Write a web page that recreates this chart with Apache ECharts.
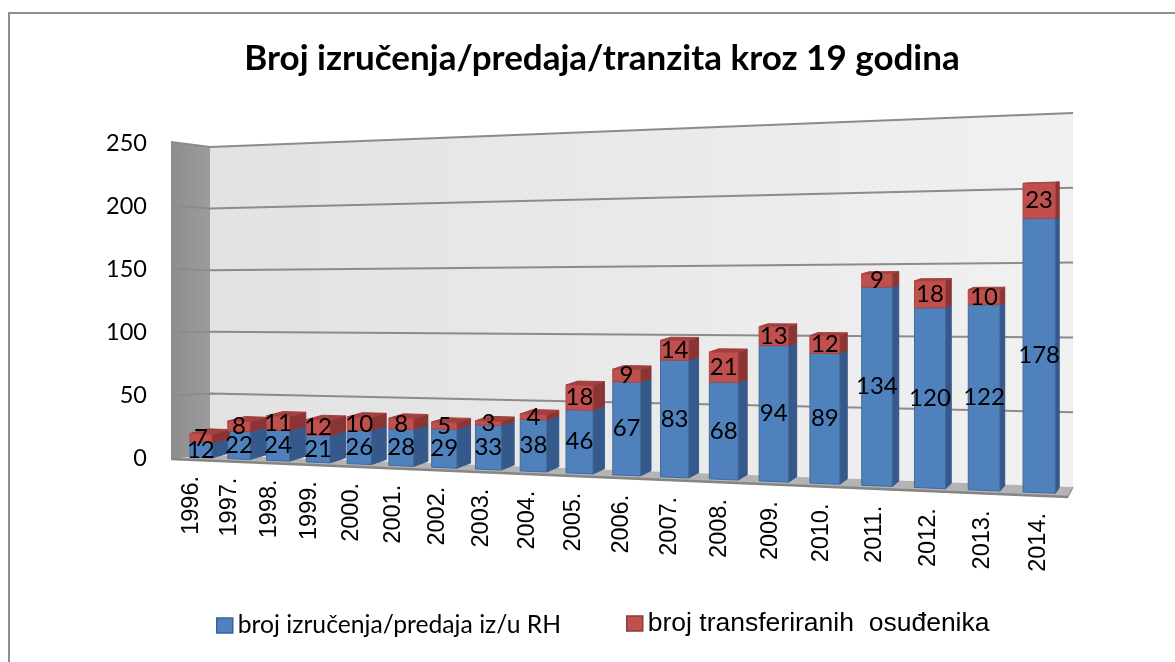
<!DOCTYPE html>
<html><head><meta charset="utf-8">
<style>html,body{margin:0;padding:0;background:#fff}#c{width:1175px;height:662px}</style>
<script src="https://cdn.jsdelivr.net/npm/echarts@6/dist/echarts.min.js"></script>
</head><body><div id="c"></div>
<script>
const categories = ['1996.','1997.','1998.','1999.','2000.','2001.','2002.','2003.','2004.','2005.','2006.','2007.','2008.','2009.','2010.','2011.','2012.','2013.','2014.'];
const izrucenja = [12,22,24,21,26,28,29,33,38,46,67,83,68,94,89,134,120,122,178];
const transferi = [7,8,11,12,10,8,5,3,4,18,9,14,21,13,12,9,18,10,23];
const yTicks = [0,50,100,150,200,250];
const titleText = 'Broj izručenja/predaja/tranzita kroz 19 godina';
const nameA = 'broj izručenja/predaja iz/u RH';
const nameB = 'broj transferiranih  osuđenika';

const GRID = {left:170, width:900, top:143, height:315};
const chart = echarts.init(document.getElementById('c'),null,{renderer:'canvas'});

// perspective helpers: everything enters as a pixel from api.coord and is bent to the 3D look
const band = GRID.width/categories.length;
const catOf = px => (px-GRID.left)/band-0.5;
const frontX = c => 200.85+37.57*c+0.5*c*c;
const rise = py => (GRID.top+GRID.height-py)*250/GRID.height;   // value from axis pixel
function front(px,py){
  const x=frontX(catOf(px)), t=(x-190)/833;
  return [x, 457+35*t-rise(py)*(1.24+0.295*t)];
}
const VP=[1300,148], S=0.0161;
const back = p => [p[0]+S*(VP[0]-p[0]), p[1]+S*(VP[1]-p[1])];
function wall(t,py){ return [210+863*t, 455+32*t-rise(py)*(1.232+0.264*t)]; }
function sideWall(py){ return [171, 459-rise(py)*1.268]; }

function barItem(base,colors){
  return function(params,api){
    const i=api.value(0), lo=base(i), hi=lo+api.value(1);
    const c=api.coord([i,lo]), d=api.coord([i,hi]);
    const hw=band*0.29;
    const a=front(c[0]-hw,c[1]), b=front(c[0]+hw,c[1]), e=front(c[0]+hw,d[1]), f=front(c[0]-hw,d[1]);
    const ba=back(b), be=back(e), bf=back(f);
    const poly=(pts,fill,stroke)=>({type:'polygon',shape:{points:pts},style:{fill:fill,stroke:stroke||fill,lineWidth:1}});
    return {type:'group',children:[
      poly([b,ba,be,e],colors.side),
      poly([f,e,be,bf],colors.top),
      poly([a,b,e,f],colors.face,colors.edge)
    ]};
  };
}
const blue={face:'#4f81bd',side:'#35598a',top:'#3f6ba3',edge:'#41699c'};
const red={face:'#c0504d',side:'#8a3533',top:'#a33f3d',edge:'#a84543'};

const option={
  animation:false,
  backgroundColor:'#fff',
  title:{text:titleText,left:597,top:36,textAlign:'center',textStyle:{fontFamily:'Lato',fontWeight:'bold',fontSize:35,color:'#000'}},
  grid:{left:GRID.left,width:GRID.width,top:GRID.top,height:GRID.height},
  xAxis:{type:'category',data:categories,axisLine:{show:false},axisTick:{show:false},axisLabel:{show:false},splitLine:{show:false}},
  yAxis:{type:'value',min:0,max:250,interval:50,axisLine:{show:false},axisTick:{show:false},splitLine:{show:false},
    axisLabel:{margin:23,fontFamily:'Lato',fontSize:23.5,color:'#000'}},
  legend:[
    {show:true,left:211,top:608,icon:'rect',itemWidth:16,itemHeight:15,itemGap:5,data:[nameA],textStyle:{fontFamily:'Lato',fontSize:24.7,color:'#000'},itemStyle:{borderColor:'#3a6496',borderWidth:1.5}},
    {show:true,left:621,top:605,icon:'rect',itemWidth:16,itemHeight:15,itemGap:5,data:[nameB],textStyle:{fontFamily:'Liberation Sans',fontSize:26.5,color:'#000'},itemStyle:{borderColor:'#8f3a38',borderWidth:1.5}}
  ],
  graphic:[
    {type:'polyline',silent:true,shape:{points:[[9,662],[9,13],[1175,13]]},style:{fill:null,stroke:'#8f8f8f',lineWidth:2}}
  ],
  series:[
    {type:'custom',name:'wall',z:1,silent:true,coordinateSystem:'cartesian2d',data:[[0,250]],
      renderItem(p,api){
        const top=api.coord([0,250])[1], zero=api.coord([0,0])[1];
        const wp=[wall(0,top),wall(1,top),wall(1,zero),wall(0,zero)];
        const sp=[sideWall(top),wall(0,top),wall(0,zero),sideWall(zero)];
        const fl=[wall(0,zero),wall(1,zero),[1068,497],sideWall(zero)];
        return {type:'group',children:[
          {type:'polygon',shape:{points:wp},style:{fill:new echarts.graphic.LinearGradient(0,0,1,0,[{offset:0,color:'#e2e2e2'},{offset:1,color:'#f1f1f1'}])}},
          {type:'polygon',shape:{points:sp},style:{fill:new echarts.graphic.LinearGradient(0,0,1,0,[{offset:0,color:'#8d8d8d'},{offset:1,color:'#9c9c9c'}])}},
          {type:'polygon',shape:{points:fl},style:{fill:'#b4b4b4'}},
          {type:'line',shape:{x1:sideWall(zero)[0],y1:sideWall(zero)[1],x2:1068,y2:497},style:{stroke:'#858585',lineWidth:2.5}},
          {type:'line',shape:{x1:1068,y1:497,x2:1073,y2:487},style:{stroke:'#999',lineWidth:1.5}}
        ]};
      }},
    {type:'custom',name:'grid',z:2,silent:true,coordinateSystem:'cartesian2d',data:yTicks.slice(1).map(v=>[0,v]),
      encode:{x:0,y:1},
      renderItem(p,api){
        const y=api.coord([0,api.value(1)])[1];
        const a=sideWall(y),b=wall(0,y),c=wall(1,y);
        return {type:'polyline',shape:{points:[a,b,c]},style:{fill:null,stroke:'#8b8b8b',lineWidth:2}};
      }},
    {type:'custom',name:nameA,z:3,coordinateSystem:'cartesian2d',data:izrucenja.map((v,i)=>[i,v]),encode:{x:0,y:1},
      itemStyle:{color:'#4f81bd'},renderItem:barItem(()=>0,blue)},
    {type:'custom',name:nameB,z:4,coordinateSystem:'cartesian2d',data:transferi.map((v,i)=>[i,v]),encode:{x:0,y:1},
      itemStyle:{color:'#c0504d'},renderItem:barItem(i=>izrucenja[i],red)},
    {type:'custom',name:'labels',z:5,silent:true,coordinateSystem:'cartesian2d',
      data:izrucenja.map((v,i)=>[i,0,v]).concat(transferi.map((v,i)=>[i,izrucenja[i],v])),encode:{x:0,y:1},
      renderItem(p,api){
        const i=api.value(0),lo=api.value(1),v=api.value(2);
        const c=api.coord([i,lo+v/2]);
        const pt=front(c[0],c[1]);
        return {type:'text',style:{x:pt[0],y:pt[1],text:String(v),align:'center',verticalAlign:'middle',font:'24px Lato',fill:'#000'}};
      }},
    {type:'custom',name:'years',z:5,silent:true,coordinateSystem:'cartesian2d',data:categories.map((n,i)=>[i,0]),encode:{x:0,y:1},
      renderItem(p,api){
        const i=api.value(0),c=api.coord([i,0]);
        const left=frontX(catOf(c[0]-band*0.29)), t=(left-190)/833;
        return {type:'text',rotation:Math.PI/2,x:left+1.5+14*t,y:476+37*t,style:{x:0,y:0,text:categories[i],align:'right',verticalAlign:'middle',font:'23.5px "Liberation Sans"',fill:'#000'}};
      }}
  ]
};
chart.setOption(option);
</script></body></html>
